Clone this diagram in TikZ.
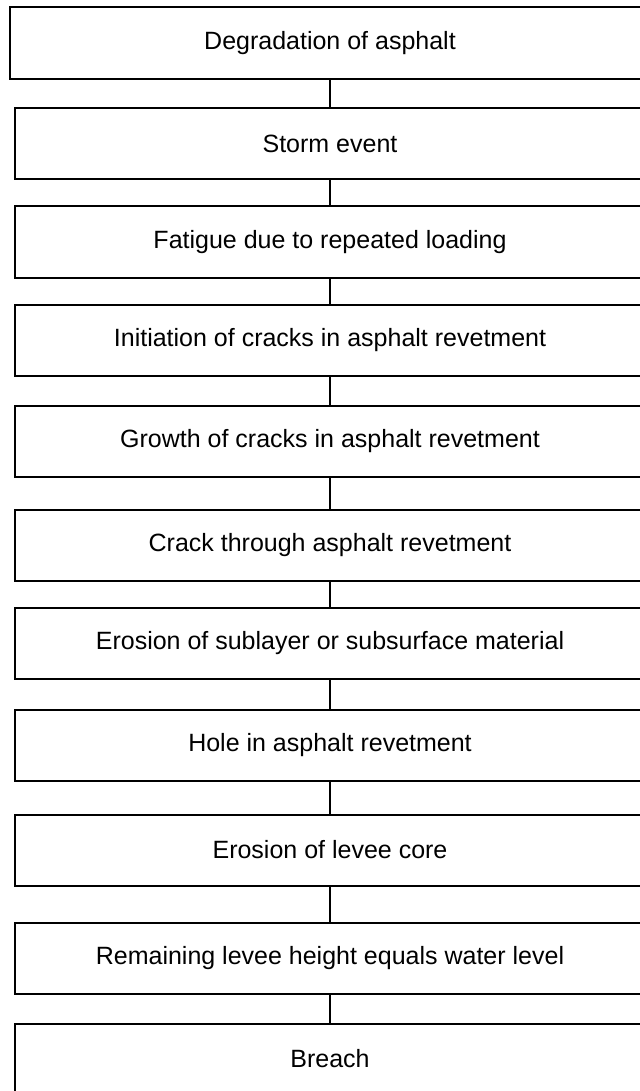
\documentclass[tikz,border=0pt]{standalone}
\usepackage{fontspec}
\setmainfont{Liberation Sans}
\usepackage{tikz}
\usetikzlibrary{positioning}
\usepackage{xcolor}

\tikzset{
  stepbox/.style={draw, line width=1pt, minimum width=315pt, minimum height=35.5pt,
    inner sep=0pt, font=\fontsize{12.5}{15}\selectfont},
  link/.style={line width=1pt}
}

\begin{document}
\begin{tikzpicture}[x=0.5pt, y=-0.5pt]
  % page frame (boxes run off the right and bottom edges)
  \clip (0,0) rectangle (640,1091);
  \fill[white] (0,0) rectangle (640,1091);
  % chain of events, one box per step
  \node[stepbox, minimum width=320pt, minimum height=36pt] (b1) at (330,43) {Degradation of asphalt};
  \node[stepbox] (b2) at (330,144) {Storm event};
  \node[stepbox] (b3) at (330,242) {Fatigue due to repeated loading};
  \node[stepbox] (b4) at (330,340) {Initiation of cracks in asphalt revetment};
  \node[stepbox] (b5) at (330,441) {Growth of cracks in asphalt revetment};
  \node[stepbox] (b6) at (330,545) {Crack through asphalt revetment};
  \node[stepbox] (b7) at (330,643) {Erosion of sublayer or subsurface material};
  \node[stepbox] (b8) at (330,745) {Hole in asphalt revetment};
  \node[stepbox] (b9) at (330,850) {Erosion of levee core};
  \node[stepbox] (b10) at (330,958) {Remaining levee height equals water level};
  \node[stepbox] (b11) at (330,1059) {Breach};
  % connectors
  \foreach \i/\j in {1/2, 2/3, 3/4, 4/5, 5/6, 6/7, 7/8, 8/9, 9/10, 10/11}
    \draw[link] (b\i) -- (b\j);
\end{tikzpicture}
\end{document}
